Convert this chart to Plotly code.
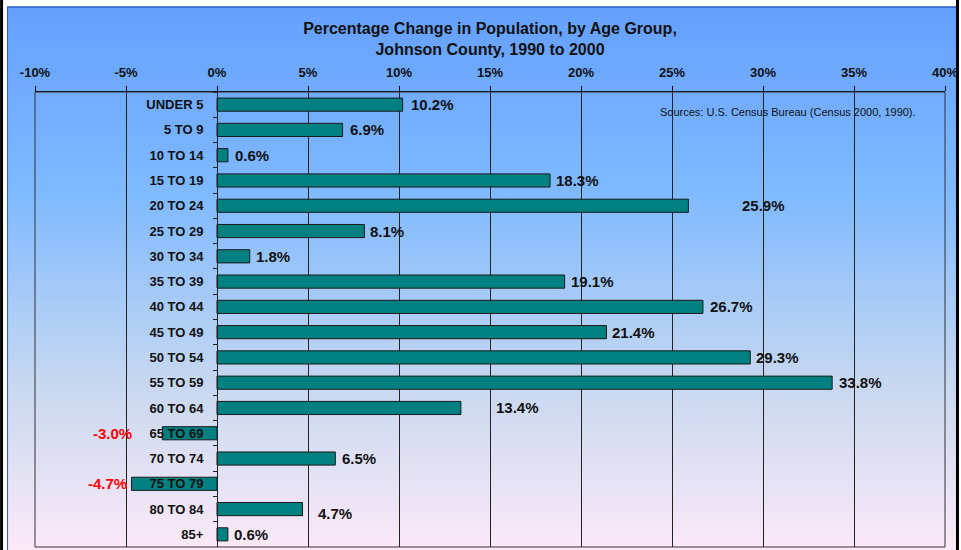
import base64
import plotly.graph_objects as go

# age groups and % change 1990-2000
age_groups = ["UNDER 5", "5 TO 9", "10 TO 14", "15 TO 19", "20 TO 24", "25 TO 29",
              "30 TO 34", "35 TO 39", "40 TO 44", "45 TO 49", "50 TO 54", "55 TO 59",
              "60 TO 64", "65 TO 69", "70 TO 74", "75 TO 79", "80 TO 84", "85+"]
pct_change = [10.2, 6.9, 0.6, 18.3, 25.9, 8.1, 1.8, 19.1, 26.7, 21.4, 29.3, 33.8,
              13.4, -3.0, 6.5, -4.7, 4.7, 0.6]
x_ticks = [-10, -5, 0, 5, 10, 15, 20, 25, 30, 35, 40]
x_tick_text = ["-10%", "-5%", "0%", "5%", "10%", "15%", "20%", "25%", "30%", "35%", "40%"]

# label nudges (px) so labels sit like the original
label_shift = [6, 5, 5, 4, 52, 4, 4, 4, 5, 4, 4, 5, 33, -28, 5, -2, 13, 4]

FONT = "Liberation Sans, Arial, sans-serif"

W, H = 961, 550
L, R, T, B = 35, 14, 92, 3
pw, ph = W - L - R, H - T - B


def px_x(p):
    return (p - L) / pw


def px_y(p):
    return (H - B - p) / ph


svg = ('<svg xmlns="http://www.w3.org/2000/svg" width="100" height="100" viewBox="0 0 100 100" '
       'preserveAspectRatio="none"><defs><linearGradient id="g" x1="0" y1="0" x2="0" y2="1">'
       '<stop offset="0" stop-color="#64a0ff"/><stop offset="0.35" stop-color="#80baff"/>'
       '<stop offset="0.7" stop-color="#c8d8f0"/><stop offset="1" stop-color="#fce9f8"/>'
       '</linearGradient></defs><rect width="100" height="100" fill="url(#g)"/></svg>')
bg_src = "data:image/svg+xml;base64," + base64.b64encode(svg.encode()).decode()

fig = go.Figure()
fig.add_trace(go.Bar(
    x=pct_change, y=age_groups, orientation="h",
    width=0.52,
    marker=dict(color="#008080", line=dict(color="#1a1a1a", width=1)),
    hoverinfo="x+y",
))

for g, v, s in zip(age_groups, pct_change, label_shift):
    neg = v < 0
    fig.add_annotation(
        x=v, y=g, text=f"{v:.1f}%", showarrow=False,
        xanchor="right" if neg else "left", xshift=s,
        yshift=-4 if g == "80 TO 84" else 0,
        font=dict(family=FONT, size=15, weight="bold", color="#ff0000" if neg else "#111111"),
    )

fig.add_annotation(
    xref="paper", yref="paper", x=px_x(659), y=px_y(112),
    text="Sources: U.S. Census Bureau (Census 2000, 1990).", showarrow=False,
    xanchor="left", yanchor="middle",
    font=dict(family=FONT, size=11, color="#111111"),
)

fig.update_layout(
    width=W, height=H,
    margin=dict(l=L, r=R, t=T, b=B),
    paper_bgcolor="white",
    plot_bgcolor="rgba(0,0,0,0)",
    showlegend=False,
    title=dict(
        text="Percentage Change in Population, by Age Group,<br>Johnson County, 1990 to 2000",
        x=0.5, xref="paper", y=1 - 34 / H, yanchor="middle",
        font=dict(family=FONT, size=16, weight="bold", color="#111111"),
    ),
    xaxis=dict(
        side="top", range=[-10, 40], tickvals=x_ticks, ticktext=x_tick_text,
        showline=True, linecolor="black", linewidth=1,
        ticks="outside", ticklen=5, tickcolor="black",
        showgrid=True, gridcolor="#222222", gridwidth=1, zeroline=False,
        tickfont=dict(family=FONT, size=13, weight="bold", color="#111111"),
        ticklabelstandoff=4, ticklabeloverflow="allow",
    ),
    yaxis=dict(
        autorange="reversed", anchor="free", position=0.2,
        showline=True, linecolor="#222222", linewidth=1,
        ticks="outside", tickson="boundaries", ticklen=4, tickcolor="#222222",
        showgrid=False,
        tickfont=dict(family=FONT, size=13, weight="bold", color="#111111"),
        ticklabelstandoff=11,
    ),
    images=[dict(
        source=bg_src, xref="paper", yref="paper",
        x=px_x(7), y=px_y(7), sizex=(958 - 7) / pw, sizey=(H - 7) / ph,
        xanchor="left", yanchor="top", sizing="stretch", layer="below",
    )],
    shapes=[
        dict(type="rect", xref="paper", yref="paper", x0=0, x1=1, y0=0, y1=1,
             line=dict(color="#333333", width=1)),
        dict(type="line", xref="paper", yref="paper", x0=px_x(7), x1=px_x(958),
             y0=px_y(7), y1=px_y(7), line=dict(color="#2a5cc8", width=1.5)),
        dict(type="line", xref="paper", yref="paper", x0=px_x(7.5), x1=px_x(7.5),
             y0=px_y(7), y1=px_y(H), line=dict(color="#2a5cc8", width=1)),
        dict(type="rect", xref="paper", yref="paper", x0=px_x(0), x1=px_x(3),
             y0=px_y(0), y1=px_y(H), fillcolor="black", line=dict(width=0)),
        dict(type="rect", xref="paper", yref="paper", x0=px_x(958), x1=px_x(961),
             y0=px_y(0), y1=px_y(H), fillcolor="black", line=dict(width=0)),
    ],
)

# page body has an 8px default margin; drop it so the figure fills the window
fig.write_html("out.html", config={"displayModeBar": False},
               post_script="document.body.style.margin='0';")
